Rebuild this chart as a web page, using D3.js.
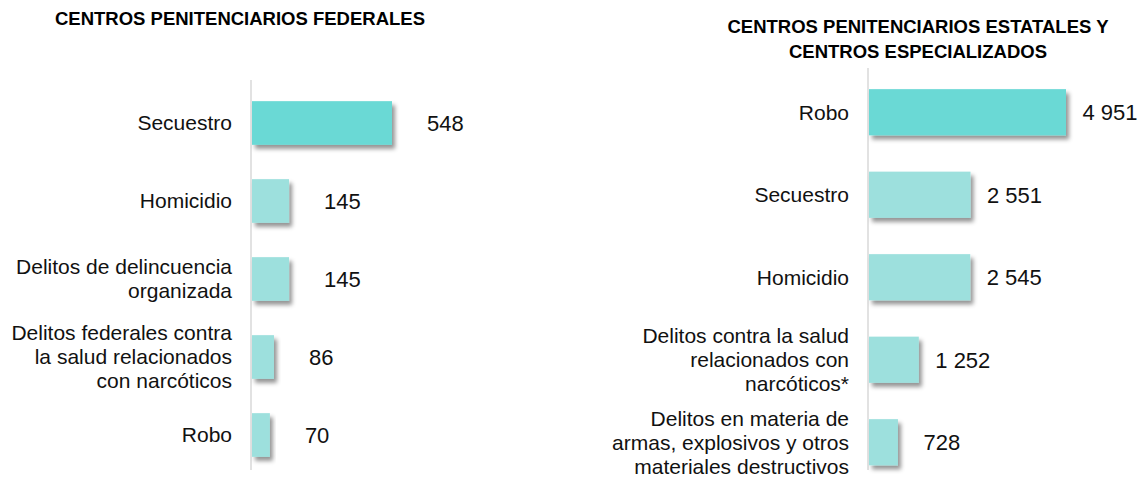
<!DOCTYPE html>
<html>
<head>
<meta charset="utf-8">
<script src="https://cdn.jsdelivr.net/npm/d3@7"></script>
<style>
  html, body { margin: 0; padding: 0; background: #fff; }
  svg { display: block; font-family: "Liberation Sans", Arial, sans-serif; }
</style>
</head>
<body>
<div id="chart"></div>
<script>
// Data: federal centres
const fedCategories = [
  ["Secuestro"],
  ["Homicidio"],
  ["Delitos de delincuencia", "organizada"],
  ["Delitos federales contra", "la salud relacionados", "con narcóticos"],
  ["Robo"]
];
const fedValues = [548, 145, 145, 86, 70];

// Data: state and specialised centres
const estCategories = [
  ["Robo"],
  ["Secuestro"],
  ["Homicidio"],
  ["Delitos contra la salud", "relacionados con", "narcóticos*"],
  ["Delitos en materia de", "armas, explosivos y otros", "materiales destructivos"]
];
const estValues = [4951, 2551, 2545, 1252, 728];

const width = 1137;
const height = 477;

// numbers use a space as thousands separator
const format = d3.formatLocale({ decimal: ".", thousands: " ", grouping: [3], currency: ["", ""] }).format(",d");

const svg = d3.create("svg")
    .attr("width", width)
    .attr("height", height)
    .attr("viewBox", [0, 0, width, height]);

// soft drop shadow under the bars
const filter = svg.append("defs").append("filter")
    .attr("id", "shadow")
    .attr("x", "-20%").attr("y", "-20%")
    .attr("width", "150%").attr("height", "150%");
filter.append("feDropShadow")
    .attr("dx", 3).attr("dy", 4)
    .attr("stdDeviation", 2.2)
    .attr("flood-color", "#000")
    .attr("flood-opacity", 0.42);

const panels = [
  {
    title: ["CENTROS PENITENCIARIOS FEDERALES"],
    titleX: 240, titleY: 25,
    cats: fedCategories, values: fedValues,
    x0: 252, xLen: 140,
    yRange: [84, 474], axis: [80, 470],
    labelX: 232,
    valueOffset: 35, valueAnchor: "start"
  },
  {
    title: ["CENTROS PENITENCIARIOS ESTATALES Y", "CENTROS ESPECIALIZADOS"],
    titleX: 918, titleY: 33,
    cats: estCategories, values: estValues,
    x0: 869, xLen: 197,
    yRange: [71, 483.5], axis: [68, 470],
    labelX: 849,
    valueOffset: 44, valueAnchor: "middle"
  }
];

panels.forEach(p => {
  const g = svg.append("g");
  const idx = d3.range(p.values.length);

  const x = d3.scaleLinear()
      .domain([0, d3.max(p.values)])
      .range([p.x0, p.x0 + p.xLen]);

  const y = d3.scaleBand()
      .domain(idx)
      .range(p.yRange)
      .paddingInner(0.44)
      .paddingOuter(0.22);

  // title
  g.append("text")
      .attr("x", p.titleX)
      .attr("y", p.titleY)
      .attr("text-anchor", "middle")
      .attr("font-size", 18.5)
      .attr("font-weight", "bold")
      .selectAll("tspan")
      .data(p.title)
      .join("tspan")
      .attr("x", p.titleX)
      .attr("dy", (d, i) => i ? 25 : 0)
      .text(d => d);

  // vertical axis line
  g.append("line")
      .attr("x1", p.x0 - 1).attr("x2", p.x0 - 1)
      .attr("y1", p.axis[0]).attr("y2", p.axis[1])
      .attr("stroke", "#d9d9d9")
      .attr("stroke-width", 1.5);

  // bars, first one highlighted
  g.append("g")
      .selectAll("rect")
      .data(idx)
      .join("rect")
      .attr("x", x(0))
      .attr("y", i => y(i))
      .attr("width", i => x(p.values[i]) - x(0))
      .attr("height", y.bandwidth())
      .attr("fill", i => i === 0 ? "#6ad9d5" : "#9de0dd")
      .attr("filter", "url(#shadow)");

  // category labels (multi-line, centred on the bar)
  const lineH = 24;
  g.append("g")
      .selectAll("text")
      .data(idx)
      .join("text")
      .attr("text-anchor", "end")
      .attr("font-size", 21)
      .attr("fill", "#111")
      .each(function(i) {
        const lines = p.cats[i];
        const cy = y(i) + y.bandwidth() / 2;
        const top = cy - (lines.length - 1) * lineH / 2;
        d3.select(this).selectAll("tspan")
            .data(lines)
            .join("tspan")
            .attr("x", p.labelX)
            .attr("y", (d, k) => top + k * lineH)
            .attr("dy", "0.35em")
            .text(d => d);
      });

  // value labels
  g.append("g")
      .selectAll("text")
      .data(idx)
      .join("text")
      .attr("x", i => x(p.values[i]) + p.valueOffset)
      .attr("y", i => y(i) + y.bandwidth() / 2)
      .attr("dy", "0.36em")
      .attr("text-anchor", p.valueAnchor)
      .attr("font-size", 22)
      .attr("fill", "#111")
      .text(i => format(p.values[i]));
});

d3.select("#chart").node().appendChild(svg.node());
</script>
</body>
</html>
